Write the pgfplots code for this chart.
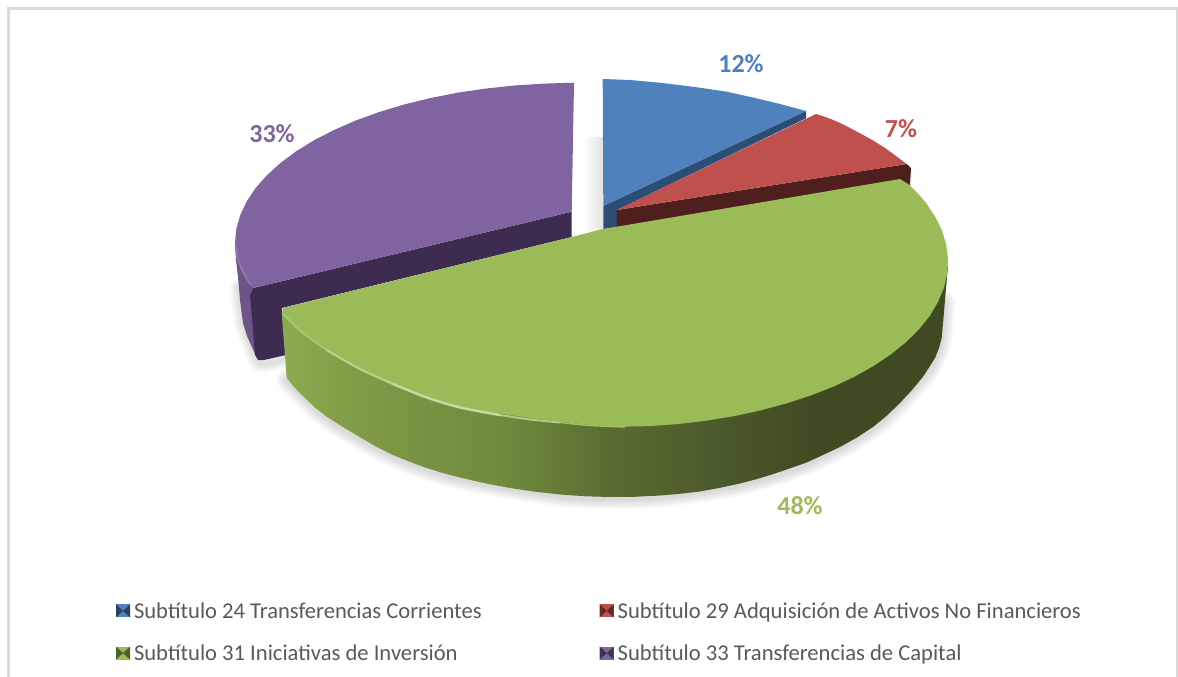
\documentclass[border=0pt]{standalone}
\usepackage{pgfplots}
\pgfplotsset{compat=1.18}
\usepackage{fontspec}
\setmainfont{Carlito}
\definecolor{cblue}{HTML}{4F81BD}
\definecolor{cred}{HTML}{C0504D}
\definecolor{cgreen}{HTML}{9BBB59}
\definecolor{cpurple}{HTML}{8064A2}
\definecolor{dblue}{HTML}{2C4D75}
\definecolor{dred}{HTML}{4F1F1E}
\definecolor{dpurple}{HTML}{3D2C4F}
\pgfdeclarehorizontalshading{greenside}{100bp}{
 rgb(0bp)=(0.55,0.67,0.31);
 rgb(25bp)=(0.55,0.67,0.31);
 rgb(32bp)=(0.49,0.60,0.27);
 rgb(42bp)=(0.43,0.54,0.24);
 rgb(50bp)=(0.35,0.42,0.19);
 rgb(58bp)=(0.29,0.35,0.17);
 rgb(65bp)=(0.25,0.29,0.135);
 rgb(75bp)=(0.25,0.29,0.135);
 rgb(100bp)=(0.25,0.29,0.135)}
\pgfdeclarehorizontalshading{gapshadow}{100bp}{
 rgb(0bp)=(1,1,1);
 rgb(25bp)=(1,1,1);
 rgb(75bp)=(0.89,0.89,0.89);
 rgb(100bp)=(0.89,0.89,0.89)}
\newcommand{\legkey}[3]{%
 \fill[#1] (0pt,-6.5pt) rectangle (14pt,6.5pt);
 \fill[#2] (0pt,-6.5pt) -- (7pt,0pt) -- (0pt,6.5pt) -- cycle;
 \fill[#3] (14pt,-6.5pt) -- (7pt,0pt) -- (14pt,6.5pt) -- cycle;}
\pgfplotsset{
 gshadow/.style={forget plot, smooth, line cap=round, draw=black, opacity=0.03, line width=#1, yshift=-2pt}}
\begin{document}
\begin{tikzpicture}
\useasboundingbox (0,0) rectangle (1178pt,677pt);
\begin{axis}[
  at={(0,0)}, anchor=south west,
  scale only axis, width=1178pt, height=677pt,
  xmin=0, xmax=1178, ymin=0, ymax=677, y dir=reverse,
  axis lines=none, clip=true,
  legend style={at={(axis cs:116,632)}, anchor=west, draw=none, fill=none,
    legend columns=2, font=\fontsize{22.6}{26}\selectfont, text=black!65,
    inner sep=0pt, outer sep=0pt,
    /tikz/every odd column/.append style={column sep=2pt},
    /tikz/every even column/.append style={column sep=116pt},
    row sep=21pt},
  legend cell align=left,
]
% frame
\addplot[forget plot, sharp plot, color=black!15, line width=2.2pt] coordinates {(8.5,677)(8.5,8.5)(1177,8.5)(1177,677)};
% soft shadows
\addplot[gshadow=4pt] coordinates {(286.7,378)(326.7,416.7)(393,455)(460,477.5)(560,494.5)(610,497)(660,495.5)(740,483.5)(806.7,462.5)(873,427)(923,376.7)(935,358)(941.7,338)(945,300)};
\addplot[gshadow=8pt] coordinates {(286.7,378)(326.7,416.7)(393,455)(460,477.5)(560,494.5)(610,497)(660,495.5)(740,483.5)(806.7,462.5)(873,427)(923,376.7)(935,358)(941.7,338)(945,300)};
\addplot[gshadow=12pt] coordinates {(286.7,378)(326.7,416.7)(393,455)(460,477.5)(560,494.5)(610,497)(660,495.5)(740,483.5)(806.7,462.5)(873,427)(923,376.7)(935,358)(941.7,338)(945,300)};
\addplot[gshadow=16pt] coordinates {(286.7,378)(326.7,416.7)(393,455)(460,477.5)(560,494.5)(610,497)(660,495.5)(740,483.5)(806.7,462.5)(873,427)(923,376.7)(935,358)(941.7,338)(945,300)};
\addplot[gshadow=20pt] coordinates {(286.7,378)(326.7,416.7)(393,455)(460,477.5)(560,494.5)(610,497)(660,495.5)(740,483.5)(806.7,462.5)(873,427)(923,376.7)(935,358)(941.7,338)(945,300)};
\addplot[gshadow=4pt] coordinates {(238,285)(243,323)(251.7,346.7)(260,362)(285,357)};
\addplot[gshadow=8pt] coordinates {(238,285)(243,323)(251.7,346.7)(260,362)(285,357)};
\addplot[gshadow=12pt] coordinates {(238,285)(243,323)(251.7,346.7)(260,362)(285,357)};
\addplot[gshadow=16pt] coordinates {(238,285)(243,323)(251.7,346.7)(260,362)(285,357)};
\addplot[forget plot, sharp plot, draw=none, shading=gapshadow] coordinates {(583,137)(603,137)(603,232)(583,236)};
% purple side and band
\addplot[forget plot, sharp plot, draw=none, fill=cpurple!85!black] coordinates {(235,243)(236,260)(238,277)(240,300)(243,323)(247,336)(251.7,346.7)(255,354)(260,360)(262,340)(254,290)};
\addplot[forget plot, sharp plot, draw=none, fill=dpurple] coordinates {(571.7,211.7)(571.7,237)(281.7,308)(286,355)(264,360)(258,360)(255,355)(250,295)(253.3,288)};
% blue
\addplot[forget plot, sharp plot, draw=none, fill=dblue] coordinates {(806,111)(806,118.3)(617,210)(617,227)(603.3,229)(603.3,206)};
\addplot[sharp plot, draw=none, fill=cblue, area legend,
  legend image code/.code={\legkey{cblue}{cblue!50!black}{cblue!50!black}}]
  coordinates {(602.7,79)(630,80)(660,82.7)(695,87)(726.7,91.7)(755,98)(780,104)(806,111)(603.3,206)};
\addlegendentry{Subtítulo 24 Transferencias Corrientes}
% red
\addplot[forget plot, sharp plot, draw=none, fill=dred] coordinates {(906.7,164)(911,168)(910,186)(900,182)(616.7,228)(616.7,210)};
\addplot[sharp plot, draw=none, fill=cred, area legend,
  legend image code/.code={\legkey{cred}{cred!50!black}{cred!50!black}}]
  coordinates {(816,114)(827,117.5)(838,122)(849,127.5)(860,133.3)(873,140.5)(885,148)(896,156)(906.7,164)(616.7,210)};
\addlegendentry{Subtítulo 29 Adquisición de Activos No Financieros}
% green
\addplot[forget plot, sharp plot, draw=none, shading=greenside] coordinates {(281.7,313)(286.7,378)(295,388)(305,398)(315,407.5)(326.7,416.7)(342,426.5)(358,436)(375,446)(393,455)(409,461.5)(425,467.5)(442,472.8)(460,477.5)(485,483.3)(510,488)(535,491.7)(560,494.5)(585,496.3)(610,497)(635,496.8)(660,495.5)(680,493.8)(700,491.5)(720,487.8)(740,483.5)(758,478.8)(775,473.5)(791,468)(806.7,462.5)(823,455)(840,447)(857,437.5)(873,427)(887,415.5)(900,403)(912,390)(923,376.7)(930,366)(935,358)(939,348)(941.7,338)(943.5,318)(945,300)(946.5,283)(948,266)};
\addplot[sharp plot, draw=none, fill=cgreen, area legend,
  legend image code/.code={\legkey{cgreen}{cgreen!50!black}{cgreen!50!black}}]
  coordinates {(900,179)(909,184.6)(916.8,192.3)(926,202.9)(935,216.5)(942,230.5)(946.2,244.8)(948,259)(947.2,273.5)(944,287.8)(938,301.9)(929.9,315.7)(919.2,329.1)(906.2,342)(891,354.2)(873.8,365.8)(854.5,376.7)(833.5,386.6)(810.8,395.5)(786.5,403.4)(760.9,410.3)(734.3,416.1)(706.8,420.6)(678.6,424)(649.8,426.1)(620,426.7)(590,425)(560,421.7)(535,418.8)(510,415)(485,411.5)(460,406.7)(443,402)(426.7,396.5)(410,390)(393,383.5)(376,376)(360,368)(343,358.5)(326.7,349)(314,340.5)(303,332)(292,322.5)(281.7,313)(283,308)(573,236.7)(603,229)};
\addlegendentry{Subtítulo 31 Iniciativas de Inversión}
% rim highlight
\addplot[forget plot, smooth, color=cgreen!85!white, line width=2pt] coordinates {(283,314)(303,333)(326.7,350)};
\addplot[forget plot, smooth, color=cgreen!70!white, line width=2.2pt] coordinates {(326.7,350)(360,369)(393,384)};
\addplot[forget plot, smooth, color=cgreen!55!white, line width=2.4pt] coordinates {(393,384)(426.7,397.5)(460,407.5)(500,415)};
\addplot[forget plot, smooth, color=cgreen!78!white, line width=2pt] coordinates {(500,415)(530,419.5)(560,422.5)};
\addplot[forget plot, smooth, color=cgreen!92!white, line width=1.4pt] coordinates {(560,422.5)(590,425.5)(625,427)};
% purple top
\addplot[sharp plot, draw=none, fill=cpurple, area legend,
  legend image code/.code={\legkey{cpurple}{cpurple!50!black}{cpurple!50!black}}]
  coordinates {(574,82.7)(544.4,83.6)(515.1,85.4)(486.3,88.5)(458.1,92.6)(430.7,98)(404.5,104.4)(379.6,111.9)(356,120.4)(334.3,129.9)(314.3,140.1)(296.3,151.2)(280.4,163)(266.8,175.4)(255.4,188.3)(246.6,201.6)(240.2,215.2)(236.3,229)(235,243)(236,251)(237.5,258)(240,266)(243,273)(247.5,281)(253.3,288)(571.7,211.7)};
\addlegendentry{Subtítulo 33 Transferencias de Capital}
\addplot[forget plot, smooth, color=cpurple!85!white, line width=1.6pt] coordinates {(235.5,245)(237.5,258)(243.5,273)(251,285)};
\node[text=cblue, font=\fontsize{26}{30}\selectfont\bfseries] at (axis cs:741,64) {12\%};
\node[text=cred, font=\fontsize{26}{30}\selectfont\bfseries] at (axis cs:901,129) {7\%};
\node[text=cpurple, font=\fontsize{26}{30}\selectfont\bfseries] at (axis cs:272,134) {33\%};
\node[text=cgreen, font=\fontsize{26}{30}\selectfont\bfseries] at (axis cs:800,506) {48\%};
\end{axis}
\end{tikzpicture}
\end{document}
